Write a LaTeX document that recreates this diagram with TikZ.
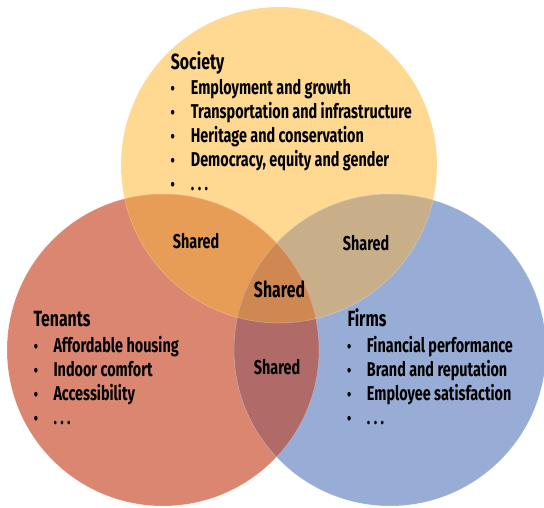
\documentclass[tikz,border=0pt]{standalone}
\usepackage{fontspec}
\setmainfont{Fira Sans}[FakeStretch=0.72]
\usepackage{tikz}

\definecolor{soccol}{HTML}{FFD892}
\definecolor{tencol}{HTML}{DB8670}
\definecolor{fircol}{HTML}{98ADD6}
\definecolor{soctencol}{HTML}{E89D56}
\definecolor{socfircol}{HTML}{C9AF89}
\definecolor{tenfircol}{HTML}{B06B69}
\definecolor{allcol}{HTML}{CF8852}

\newcommand{\moredots}{.\kern3.4pt.\kern3.4pt.}

\begin{document}
\begin{tikzpicture}[x=1pt,y=-1pt,
  head/.style={anchor=base west,inner sep=0pt,font=\fontsize{22}{26}\selectfont\bfseries},
  entry/.style={anchor=base west,inner sep=0pt,font=\fontsize{20}{24}\selectfont\bfseries},
  dot/.style={anchor=base,inner sep=0pt,font=\fontsize{17}{20}\selectfont\bfseries},
  shared/.style={anchor=base,inner sep=0pt,font=\fontsize{20}{24}\selectfont\bfseries}]
\useasboundingbox (0,0) rectangle (544,507);

\coordinate (csoc) at (279,165);
\coordinate (cten) at (163,350);
\coordinate (cfir) at (390,350);

% the three sets
\fill [soccol] (csoc) circle (158pt);
\fill [tencol] (cten) circle (156pt);
\fill [fircol] (cfir) circle (156pt);

% pairwise overlaps
\begin{scope}
\clip (csoc) circle (158pt);
\fill [soctencol] (cten) circle (156pt);
\fill [socfircol] (cfir) circle (156pt);
\end{scope}
\begin{scope}
\clip (cten) circle (156pt);
\fill [tenfircol] (cfir) circle (156pt);
\end{scope}
% middle
\begin{scope}
\clip (csoc) circle (158pt);
\clip (cten) circle (156pt);
\fill [allcol] (cfir) circle (156pt);
\end{scope}

% faint rims
\draw [white, opacity=0.3, line width=0.5pt] (csoc) circle (158pt);
\draw [white, opacity=0.3, line width=0.5pt] (cten) circle (156pt);
\draw [white, opacity=0.3, line width=0.5pt] (cfir) circle (156pt);

% Society
\node [head] (soc) at (170.7,69) {Society};
\foreach \txt [count=\i] in {Employment and growth,Transportation and infrastructure,
    Heritage and conservation,{Democracy, equity and gender},\moredots}
{
  \node [dot] (soc-b\i) at (172.7,70+24*\i) {\textbullet};
  \node [entry] (soc-\i) at (190.7,70+24*\i) {\txt};
}

% Tenants
\node [head] (ten) at (33.3,326.7) {Tenants};
\foreach \txt [count=\i] in {Affordable housing,Indoor comfort,Accessibility,\moredots}
{
  \node [dot] (ten-b\i) at (36,328+24*\i) {\textbullet};
  \node [entry] (ten-\i) at (53.3,328+24*\i) {\txt};
}

% Firms
\node [head] (fir) at (347.3,326.7) {Firms};
\foreach \txt [count=\i] in {Financial performance,Brand and reputation,Employee satisfaction,\moredots}
{
  \node [dot] (fir-b\i) at (349.3,328+24*\i) {\textbullet};
  \node [entry] (fir-\i) at (366.7,328+24*\i) {\txt};
}

% overlaps
\node [shared] (st) at (196,248) {Shared};
\node [shared] (sf) at (366,250) {Shared};
\node [shared] (tf) at (277,374) {Shared};
\node [shared, font=\fontsize{22}{26}\selectfont\bfseries] (all) at (279.5,297) {Shared};
\end{tikzpicture}
\end{document}
